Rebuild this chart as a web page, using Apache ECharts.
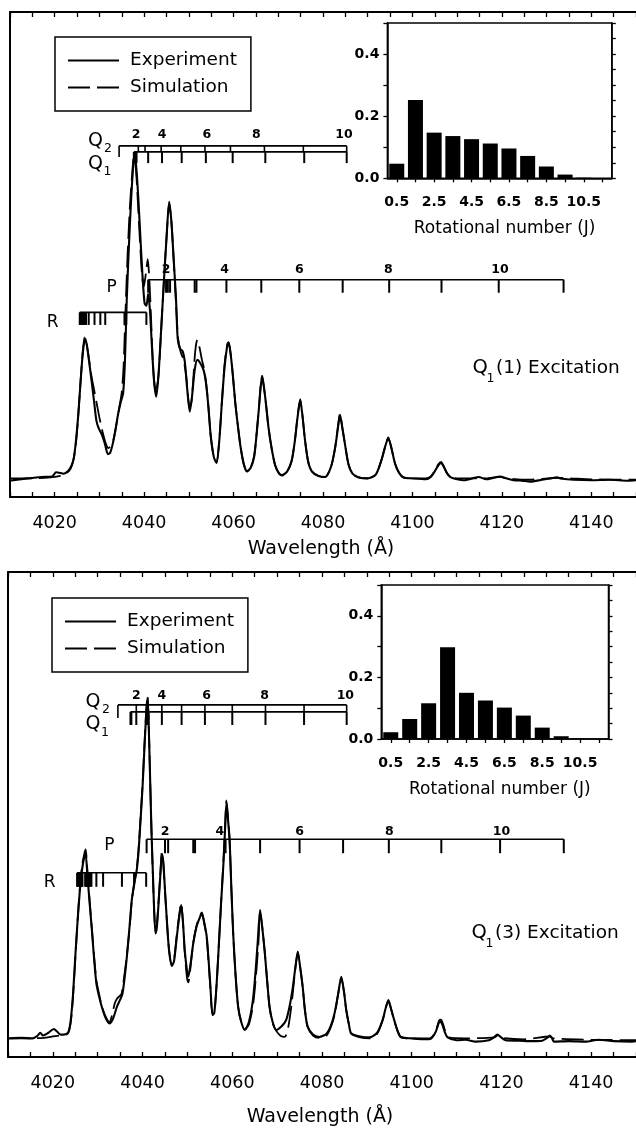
<!DOCTYPE html>
<html><head><meta charset="utf-8">
<script src="https://cdn.jsdelivr.net/npm/echarts@6/dist/echarts.min.js"></script>
<style>html,body{margin:0;padding:0;background:#fff}#c{width:636px;height:1128px}</style>
</head><body><div id="c"></div><script>
// ---------- DATA ----------
// Q1(1) excitation spectrum: [wavelength (Å), intensity (arb.)]
const expTop = [[4009.8,-0.5],[4014,0],[4017,0.3],[4019.4,0.4],[4020.3,1.3],[4021,1.2],[4022,1.0],[4023,1.6],[4023.7,2.6],[4024.3,4.5],[4024.8,8.5],[4025.3,14],[4025.8,21],[4026.3,27],[4026.8,30],[4027.2,28.5],[4027.7,25],[4028.3,20.5],[4028.8,16.5],[4029.3,12.5],[4029.8,10.8],[4030.5,9.5],[4031.2,7.5],[4031.9,5.2],[4032.4,5.5],[4033,7.5],[4033.6,10.5],[4034.2,13.9],[4034.8,16.5],[4035.3,18.2],[4035.7,25],[4036.1,38],[4036.6,50],[4037.1,60],[4037.6,67.5],[4037.9,69.5],[4038.3,66],[4038.7,60],[4039.2,51],[4039.6,44],[4040.1,37.5],[4040.5,37],[4040.9,39.5],[4041.3,36],[4041.7,29],[4042.2,21],[4042.7,17.5],[4043.2,22],[4043.8,31.8],[4044.4,42],[4045,51.5],[4045.6,59.3],[4046.1,55],[4046.6,47],[4047.1,39],[4047.5,30],[4048,27.8],[4048.6,27.3],[4049.1,25],[4049.6,19.5],[4050.2,14.3],[4050.7,17.5],[4051.3,23.2],[4051.9,25.4],[4052.5,24.8],[4053.3,23.2],[4053.9,20],[4054.4,15],[4054.9,9],[4055.6,4.5],[4056.2,3.3],[4056.8,8],[4057.4,16.5],[4058,24],[4058.6,28.5],[4058.9,29],[4059.3,27],[4059.8,22.5],[4060.4,16],[4061,11],[4061.6,6.5],[4062.3,3],[4063,1.5],[4063.8,2.2],[4064.6,4.6],[4065.2,10],[4065.7,15.4],[4066.1,20],[4066.4,21.8],[4066.8,19.5],[4067.3,15.5],[4067.8,11],[4068.5,6.5],[4069.3,2.8],[4070.2,1],[4070.9,0.7],[4072,1.5],[4073,3.8],[4073.7,8],[4074.3,13],[4074.9,16.8],[4075.4,13.5],[4076,8],[4076.7,3.5],[4077.5,1.5],[4079,0.5],[4080.5,0.3],[4081.8,2.5],[4082.7,6.5],[4083.3,10.5],[4083.8,13.6],[4084.3,11],[4085,6.8],[4085.7,3],[4086.6,1],[4088,0.2],[4090,0],[4091.8,0.8],[4093.1,4],[4093.9,6.8],[4094.6,8.6],[4095.3,6.5],[4096.1,3.2],[4097,1.2],[4098,0.2],[4100,0],[4103,-0.2],[4104.1,0.3],[4105,1.5],[4105.8,2.8],[4106.4,3.3],[4107,2.5],[4107.8,1],[4108.6,0.2],[4110,-0.2],[4111.5,-0.4],[4113.5,0],[4114.8,0.3],[4116.5,-0.2],[4118,0.1],[4119.6,0.4],[4121,0],[4122.6,-0.4],[4124.5,-0.5],[4126.3,-0.7],[4129,-0.3],[4131,0],[4132.3,0.2],[4133.5,-0.1],[4136,-0.3],[4140,-0.4],[4144,-0.3],[4148.2,-0.5],[4150,-0.4]];
const simTop = [[4010,0],[4015,0],[4019,0.2],[4021,0.5],[4022.5,1],[4023.5,2],[4024.2,4],[4024.8,8],[4025.3,14],[4025.8,21],[4026.3,27.5],[4026.7,30.3],[4027.1,29],[4027.6,26],[4028.2,22],[4028.8,19],[4029.4,16],[4030,13],[4030.7,10],[4031.4,7.5],[4032,6.5],[4032.6,7],[4033.2,8.5],[4033.8,11.5],[4034.4,15],[4035,18.5],[4035.4,24],[4035.8,35],[4036.3,48],[4036.8,58],[4037.3,65],[4037.7,68.8],[4038.1,67],[4038.5,61],[4039,52],[4039.5,44],[4039.9,41],[4040.4,44],[4040.8,47],[4041.2,42],[4041.6,33],[4042,24],[4042.6,18.5],[4043.2,22],[4043.8,31.8],[4044.4,42],[4045,51.5],[4045.6,59],[4046.1,55],[4046.6,47],[4047.1,38],[4047.6,30],[4048.2,27],[4048.8,25.5],[4049.4,22],[4050,16],[4050.4,15.5],[4050.9,20],[4051.4,27],[4051.9,29.7],[4052.4,28],[4052.9,25.5],[4053.4,23.5],[4053.9,20],[4054.4,15],[4054.9,9],[4055.6,4.5],[4056.2,3.5],[4056.8,8.2],[4057.4,16.5],[4058,24.5],[4058.6,28.8],[4058.9,29.2],[4059.3,27],[4059.8,22.5],[4060.4,16],[4061,11],[4061.6,6.5],[4062.3,3],[4063,1.5],[4063.8,2.2],[4064.6,4.8],[4065.2,10],[4065.7,15.6],[4066.1,20.3],[4066.4,22],[4066.8,19.5],[4067.3,15.5],[4067.8,11],[4068.5,6.5],[4069.3,2.8],[4070.2,1],[4070.9,0.6],[4072,1.4],[4073,3.8],[4073.7,8],[4074.3,13.2],[4074.9,17],[4075.4,13.5],[4076,8],[4076.7,3.5],[4077.5,1.5],[4079,0.5],[4080.5,0.3],[4081.8,2.5],[4082.7,6.5],[4083.3,10.8],[4083.8,13.8],[4084.3,11],[4085,6.8],[4085.7,3],[4086.6,1],[4088,0.2],[4090,0],[4091.8,0.8],[4093.1,4],[4093.9,6.8],[4094.6,8.8],[4095.3,6.5],[4096.1,3.2],[4097,1.2],[4098,0.2],[4100,0],[4103,0],[4104.1,0.4],[4105,1.6],[4105.8,3],[4106.4,3.5],[4107,2.6],[4107.8,1],[4108.6,0.2],[4110,0],[4114,0],[4115,0.2],[4116.5,0],[4119.6,0.3],[4121,0],[4126,-0.3],[4132.3,0.1],[4140,-0.2],[4150,-0.3]];
// Q1(3) excitation spectrum
const expBot = [[4010.3,0],[4013,0.1],[4015.5,0],[4016.5,0.5],[4017.2,1.2],[4017.8,0.6],[4019,1.2],[4020.2,2],[4021,1.4],[4021.7,0.8],[4022.8,0.9],[4023.5,1.4],[4024,4],[4024.5,9.5],[4025,17.5],[4025.5,25],[4026,31.5],[4026.5,36.1],[4027,38.9],[4027.3,39.5],[4027.7,35],[4028.2,29],[4028.7,23.2],[4029.2,17],[4029.7,11.8],[4030.3,9],[4030.9,6.8],[4031.7,4.5],[4032.6,3.2],[4033.4,4.2],[4034.3,6.8],[4035,8.3],[4035.5,9.5],[4036,13],[4036.5,17.5],[4037.1,24],[4037.6,29.7],[4038.2,33.5],[4038.7,36.1],[4039.1,40],[4039.5,46],[4040,54],[4040.4,62],[4040.8,69.5],[4041.1,73],[4041.4,66],[4041.7,55],[4042,44],[4042.3,35.4],[4042.6,27],[4042.9,22.5],[4043.2,24],[4043.6,29.5],[4044,35.5],[4044.3,39.5],[4044.6,38],[4045,31.8],[4045.5,24],[4045.9,18.9],[4046.5,15.5],[4047,16.5],[4047.6,21.5],[4048.1,25.5],[4048.6,28.6],[4049,25],[4049.4,18.9],[4049.9,14.5],[4050.2,13.2],[4050.7,16],[4051.3,20.4],[4052,23.9],[4052.6,25.5],[4053.2,26.8],[4053.7,25],[4054.3,21.8],[4054.7,17],[4055.1,11.5],[4055.6,5],[4056,5.5],[4056.5,11.5],[4057,20],[4057.5,29],[4058,37],[4058.4,45],[4058.7,50.5],[4059,47.5],[4059.4,42.5],[4059.8,32],[4060.2,22.5],[4060.7,14],[4061.3,6.8],[4062,3.5],[4062.8,1.8],[4063.7,3.5],[4064.6,8.2],[4065.2,14.5],[4065.7,21.1],[4066.2,27.5],[4066.6,24.5],[4067.2,18.9],[4067.8,12],[4068.3,6.8],[4069,3.5],[4069.8,1.8],[4071,2.6],[4072,3.9],[4072.8,7],[4073.5,11],[4074.1,15.5],[4074.6,18.6],[4075.1,15.5],[4075.7,11],[4076.2,6],[4076.8,2.5],[4078,0.8],[4079.4,0.3],[4081,1],[4082,2.8],[4082.8,5.4],[4083.6,9.5],[4084.3,13.2],[4084.9,10],[4085.4,6.1],[4086,3],[4086.5,1.1],[4088.5,0.4],[4090.6,0.2],[4092.3,1.2],[4093.5,3.9],[4094.2,6.5],[4094.8,8.2],[4095.4,6.3],[4096.1,3.9],[4096.9,1.5],[4097.6,0.3],[4100,0],[4103.9,-0.2],[4104.6,0.2],[4105.4,1.5],[4106,3.2],[4106.3,3.6],[4106.8,3],[4107.4,1.3],[4108,0.2],[4110,-0.4],[4112,-0.3],[4114.3,-0.7],[4117.2,-0.4],[4118.3,0.2],[4119.1,0.8],[4119.8,0.3],[4120.9,-0.4],[4124,-0.5],[4127,-0.6],[4129.1,-0.5],[4130.2,0.1],[4130.8,0.6],[4131.3,0],[4131.7,-0.7],[4135,-0.6],[4138.7,-0.7],[4141.7,-0.3],[4145,-0.6],[4149.1,-0.7],[4150,-0.6]];
const simBot = [[4010,0],[4015,0],[4018,0.1],[4020,0.4],[4022,0.7],[4023.3,1],[4024,3.5],[4024.5,9],[4025,17],[4025.5,25],[4026,32],[4026.5,37],[4027,39.5],[4027.3,40.5],[4027.7,36],[4028.2,29.5],[4028.7,23.5],[4029.2,17.5],[4029.7,12.5],[4030.3,9.5],[4030.9,7],[4031.7,4.8],[4032.6,3.5],[4033.2,5],[4033.8,7.5],[4034.3,8.5],[4034.8,9],[4035.3,9.5],[4035.8,12.5],[4036.4,17],[4037.1,23.5],[4037.6,29.5],[4038.2,33.5],[4038.7,36.5],[4039.1,40.5],[4039.5,46.5],[4040,54.5],[4040.4,62.5],[4040.8,70],[4041.1,73.5],[4041.4,66.5],[4041.7,55],[4042,44],[4042.3,35],[4042.6,27],[4042.9,23],[4043.2,24.5],[4043.6,30],[4044,36],[4044.3,40],[4044.6,38],[4045,31.5],[4045.5,24],[4045.9,19],[4046.5,15.8],[4047,16.8],[4047.6,22],[4048.1,26],[4048.6,29],[4049,25],[4049.4,18.5],[4049.9,13],[4050.2,12],[4050.6,14.5],[4051.3,20.5],[4052,24],[4052.6,25.8],[4053.2,27],[4053.7,25],[4054.3,21.5],[4054.7,16.5],[4055.1,11],[4055.6,5],[4056,5.5],[4056.5,11.5],[4057,20],[4057.5,29],[4058,37.5],[4058.4,45.5],[4058.7,51],[4059,48],[4059.4,42.5],[4059.8,32],[4060.2,22.5],[4060.7,14],[4061.3,6.8],[4062,3.5],[4062.8,2],[4063.7,3],[4064.6,7],[4065.2,12.5],[4065.8,20],[4066.2,27],[4066.6,24.5],[4067.2,18.9],[4067.8,12],[4068.3,6.8],[4069,3.2],[4069.8,1.6],[4070.8,0.5],[4071.7,0.3],[4072.5,2.5],[4073.3,8],[4074,14.5],[4074.6,18.3],[4075.1,15.5],[4075.7,11],[4076.2,6],[4076.8,2.5],[4078,0.6],[4079.4,0.1],[4081,0.6],[4082,2.5],[4082.8,5],[4083.6,9.5],[4084.3,13],[4084.9,10],[4085.4,6.1],[4086,3],[4086.5,1],[4088.5,0.2],[4090.6,0],[4092.3,1],[4093.5,3.8],[4094.2,6.5],[4094.8,8],[4095.4,6.3],[4096.1,3.8],[4096.9,1.4],[4097.6,0.2],[4100,0],[4104,0],[4104.8,0.6],[4105.5,2],[4106.1,3.8],[4106.5,4],[4107,3],[4107.6,1.2],[4108.3,0.2],[4112,0],[4118.5,0.2],[4119.2,0.7],[4120,0.1],[4125,-0.2],[4130.8,0.4],[4131.5,0],[4140,-0.3],[4150,-0.4]];

// Rotational population (insets)
const jLabels = ['0.5','1.5','2.5','3.5','4.5','5.5','6.5','7.5','8.5','9.5','10.5','11.5'];
const popTop = [0.047,0.252,0.147,0.136,0.126,0.112,0.096,0.072,0.038,0.012,0.002,0];
const popBot = [0.022,0.065,0.116,0.298,0.150,0.125,0.102,0.076,0.037,0.009,0.001,0];

// Line positions (Å) of the rotational branches
const q1Top = [4037.7,4037.9,4038.1,4038.3,4040.9,4044.0,4048.4,4053.8,4059.8,4067.1,4075.8,4085.3];
const q2Top = [4034.4,4038.7,4040.2,4043.8,4048.2,4053.6,4059.3,4066.9,4075.6,4085.3];
const q2TopLbl = [[4038.2,'2'],[4044.0,'4'],[4054.0,'6'],[4065.1,'8'],[4084.7,'10']];
const pTop = [4040.9,4044.9,4045.3,4045.8,4051.3,4051.7,4058.4,4066.2,4074.7,4084.4,4094.8,4106.5,4119.3,4133.8];
const pTopLbl = [[4044.9,'2'],[4058.0,'4'],[4074.7,'6'],[4094.6,'8'],[4119.6,'10']];
const rTop = [4025.6,4025.8,4026.0,4026.2,4026.4,4026.6,4026.8,4027.0,4027.6,4028.9,4030.2,4031.3,4035.6,4036.0,4040.5];

const q1Bot = [4037.3,4037.5,4038.6,4040.9,4041.1,4041.3,4044.3,4048.7,4053.9,4060.0,4067.4,4076.0,4085.5];
const q2Bot = [4034.5,4038.6,4041.1,4044.3,4048.7,4053.9,4060.0,4067.4,4076.0,4085.5];
const q2BotLbl = [[4038.6,'2'],[4044.3,'4'],[4054.3,'6'],[4067.2,'8'],[4085.2,'10']];
const pBot = [4040.9,4045.0,4045.7,4051.3,4051.7,4058.5,4066.2,4075.0,4084.7,4094.9,4106.6,4119.7,4133.9];
const pBotLbl = [[4045.0,'2'],[4057.2,'4'],[4075.0,'6'],[4095.0,'8'],[4120.0,'10']];
const rBot = [4025.4,4025.6,4025.8,4026.0,4026.2,4026.4,4026.6,4027.2,4027.4,4027.6,4027.8,4028.0,4028.2,4028.4,4028.6,4029.7,4031.2,4035.4,4038.1,4040.8];

const wlLabels = [4020,4040,4060,4080,4100,4120,4140];

// ---------- BUILD ----------
const FONT = 'DejaVu Sans';
const K = '#000';
const wlTicks = []; for (let w = 4010; w <= 4150; w += 5) wlTicks.push(w);

// ladder levels (layout, intensity units)
const LV = {
  top: {q2:71.3, q1:70.0, q1b:67.6, q2b:68.9, qLbl:73.7, p:42.6, pb:39.8, pLbl:44.7, r:35.6, rb:32.9},
  bot: {q2:71.5, q1:70.0, q1b:67.2, q2b:68.7, qLbl:73.5, p:42.7, pb:39.7, pLbl:44.4, r:35.5, rb:32.5}
};
function ladderSegs(L, q1, q2, p, r) {
  const s = [];
  s.push([q2[0], L.q2, q2[q2.length-1], L.q2, 1.6]);
  s.push([q2[0], L.q2, q2[0], L.q2b, 1.6]);
  q2.slice(1).forEach(w => s.push([w, L.q2, w, L.q1, 1.6]));
  s.push([q1[0], L.q1, q1[q1.length-1], L.q1, 1.6]);
  q1.forEach(w => s.push([w, L.q1, w, L.q1b, 2]));
  s.push([p[0], L.p, p[p.length-1], L.p, 1.6]);
  p.forEach(w => s.push([w, L.p, w, L.pb, 2]));
  s.push([r[0], L.r, r[r.length-1], L.r, 1.6]);
  r.forEach(w => s.push([w, L.r, w, L.rb, 2]));
  return s;
}
function segSeries(xi, yi, data) {
  return {type:'custom', xAxisIndex:xi, yAxisIndex:yi, data, silent:true, z:5,
    renderItem: (params, api) => {
      const a = api.coord([api.value(0), api.value(1)]);
      const b = api.coord([api.value(2), api.value(3)]);
      return {type:'line', shape:{x1:a[0],y1:a[1],x2:b[0],y2:b[1]}, style:{stroke:K, lineWidth:api.value(4)}};
    }};
}
function lblSeries(xi, yi, items, level) {
  return {type:'custom', xAxisIndex:xi, yAxisIndex:yi, data: items.map(d => [d[0], level]), silent:true, z:6,
    renderItem: (params, api) => {
      const a = api.coord([api.value(0), api.value(1)]);
      return {type:'text', x:a[0], y:a[1], style:{text: items[params.dataIndex][1], fontFamily:FONT, fontSize:12.5, fontWeight:'bold', fill:K, align:'center', verticalAlign:'middle'}};
    }};
}

function mainX(gi, pos, gap) {
  const bottom = pos === 'bottom';
  return {gridIndex:gi, type:'value', position:pos, min:4010, max:4150,
    axisLine:{show:true, onZero:false, lineStyle:{color:K, width:2}},
    axisTick:{show:true, inside:true, length:5, customValues: wlTicks, lineStyle:{color:K, width:1.3}},
    minorTick:{show:false}, splitLine:{show:false},
    axisLabel:{show:bottom, customValues: wlLabels, margin:17, fontFamily:FONT, fontSize:17.5, color:K,
      formatter: v => String(v)},
    name: bottom ? 'Wavelength (Å)' : '', nameLocation:'middle', nameGap:gap || 43,
    nameTextStyle:{fontFamily:FONT, fontSize:19, color:K, padding:[0,4,0,0]}};
}
function mainY(gi) {
  return {gridIndex:gi, type:'value', min:-4, max:100,
    axisLine:{show:true, onZero:false, lineStyle:{color:K, width:2}},
    axisTick:{show:false}, axisLabel:{show:false}, splitLine:{show:false}};
}
function insetX(gi, gap) {
  return {gridIndex:gi, type:'category', data:jLabels, boundaryGap:true,
    axisLine:{show:true, lineStyle:{color:K, width:1.5}},
    axisTick:{show:true, alignWithLabel:true, interval:0, length:4, lineStyle:{color:K, width:1.3}},
    axisLabel:{interval:1, margin:17, fontFamily:FONT, fontSize:14, fontWeight:'bold', color:K},
    name:'Rotational number (J)', nameLocation:'middle', nameGap:gap,
    nameTextStyle:{fontFamily:FONT, fontSize:17, color:K, padding:[0,0,0,10]}};
}
function insetYL(gi) {
  return {gridIndex:gi, type:'value', min:0, max:0.5, interval:0.1,
    axisLine:{show:true, lineStyle:{color:K, width:1.5}},
    axisTick:{show:true, length:4, lineStyle:{color:K, width:1.3}},
    axisLabel:{margin:8, fontFamily:FONT, fontSize:14, fontWeight:'bold', color:K,
      formatter: v => (Math.round(v*10) % 2 === 0 && v < 0.45) ? v.toFixed(1) : ''},
    splitLine:{show:false}};
}
function insetYR(gi) {
  return {gridIndex:gi, type:'value', position:'right', min:0, max:0.5, interval:0.05,
    axisLine:{show:true, lineStyle:{color:K, width:1.5}},
    axisTick:{show:true, length:4, lineStyle:{color:K, width:1.3}},
    axisLabel:{show:false}, splitLine:{show:false}};
}
function specSeries(name, xi, yi, data, dashed) {
  return {name, type:'line', xAxisIndex:xi, yAxisIndex:yi, data, symbol:'none', smooth:0.25,
    color:K, itemStyle:{color:K}, z: dashed ? 3 : 4, clip:true,
    lineStyle:{color:K, width: dashed ? 1.8 : 2.1, type: dashed ? [22,7] : 'solid'}};
}
function legendAt(left, top) {
  return {data:['Experiment','Simulation'], orient:'vertical', left, top, selectedMode:false,
    itemWidth:51, itemHeight:14, itemGap:8, padding:[14,14,14,12],
    borderColor:K, borderWidth:1.5, backgroundColor:'#fff',
    itemStyle:{opacity:0},
    lineStyle:{color:K, width:2},
    textStyle:{fontFamily:FONT, fontSize:18.5, color:K, padding:[0,0,0,6]}};
}
function txt(x, y, text, size, align) {
  return {type:'text', x, y, z:10, silent:true,
    style:{text, fontFamily:FONT, fontSize:size, fill:K, align:align||'center', verticalAlign:'middle',
      textAlign:align||'center', textVerticalAlign:'middle'}};
}

const option = {
  animation:false,
  backgroundColor:'#fff',
  grid:[
    {left:10, top:12, width:630, height:485},
    {left:387.4, top:23, width:224.4, height:155.3, show:true, borderColor:K, borderWidth:1.5, backgroundColor:'#fff'},
    {left:8, top:572, width:632, height:485},
    {left:381.3, top:585, width:227.2, height:154, show:true, borderColor:K, borderWidth:1.5, backgroundColor:'#fff'}
  ],
  xAxis:[ mainX(0,'bottom',43), mainX(0,'top'), insetX(1,42), mainX(2,'bottom',51), mainX(2,'top'), insetX(3,42) ],
  yAxis:[ mainY(0), insetYL(1), insetYR(1), mainY(2), insetYL(3), insetYR(3) ],
  legend:[ legendAt(55,37), legendAt(52,598) ],
  series:[
    specSeries('Simulation',0,0,simTop,true),
    specSeries('Experiment',0,0,expTop,false),
    segSeries(0,0, ladderSegs(LV.top, q1Top, q2Top, pTop, rTop)),
    lblSeries(0,0, q2TopLbl, LV.top.qLbl),
    lblSeries(0,0, pTopLbl, LV.top.pLbl),
    {type:'bar', xAxisIndex:2, yAxisIndex:1, data:popTop, barWidth:15, itemStyle:{color:K}, silent:true},
    specSeries('Simulation',3,3,simBot,true),
    specSeries('Experiment',3,3,expBot,false),
    segSeries(3,3, ladderSegs(LV.bot, q1Bot, q2Bot, pBot, rBot)),
    lblSeries(3,3, q2BotLbl, LV.bot.qLbl),
    lblSeries(3,3, pBotLbl, LV.bot.pLbl),
    {type:'bar', xAxisIndex:5, yAxisIndex:4, data:popBot, barWidth:15, itemStyle:{color:K}, silent:true}
  ],
  graphic:[
    txt(95.5,141.5,'Q',19), txt(108,148.5,'2',12.5),
    txt(95.5,164.5,'Q',19), txt(107.5,171.5,'1',12.5),
    txt(111.7,288,'P',17), txt(52.7,322.7,'R',17),
    txt(472.6,368,'Q',19.5,'left'), txt(490.5,378.5,'1',12.5), txt(496,368,'(1) Excitation',18.5,'left'),
    txt(93,702.5,'Q',19), txt(106,710,'2',12.5),
    txt(93,724,'Q',19), txt(105,732.5,'1',12.5),
    txt(109.3,846,'P',17), txt(49.7,882.5,'R',17),
    txt(471.4,933.3,'Q',19.5,'left'), txt(489.5,943.5,'1',12.5), txt(495,933.3,'(3) Excitation',18.5,'left')
  ]
};
const chart = echarts.init(document.getElementById('c'), null, {renderer:'canvas'});
chart.setOption(option);
</script></body></html>
